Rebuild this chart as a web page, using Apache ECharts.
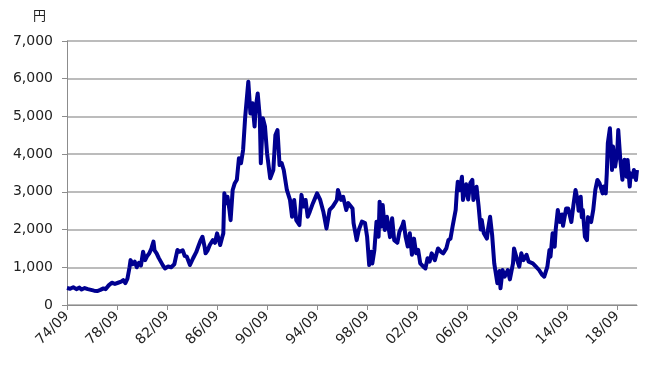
<!DOCTYPE html>
<html>
<head>
<meta charset="utf-8">
<script src="https://cdn.jsdelivr.net/npm/echarts@6/dist/echarts.min.js"></script>
<style>
  html, body { margin: 0; padding: 0; background: #fff; }
  #chart { width: 651px; height: 370px; }
</style>
</head>
<body>
<div id="chart"></div>
<script>
// months counted from 1974/09
var monthIndex = [
  0, 3, 6, 9, 12, 14, 17, 20, 23, 26, 29, 32, 35, 37, 40, 43, 46, 49, 52, 54,
  56, 58, 60, 61, 63, 65, 67, 69, 71, 73, 75, 77, 79, 81, 83, 84, 86, 88, 90, 92,
  94, 97, 100, 103, 106, 108, 111, 113, 115, 118, 121, 124, 126, 128, 130, 132, 133, 135, 137, 140,
  142, 144, 147, 149, 150, 151, 153, 154, 156, 157, 158, 159, 161, 163, 165, 167, 169, 171, 174, 176,
  178, 180, 181, 183, 185, 186, 188, 190, 192, 195, 198, 200, 202, 204, 206, 208, 211, 214, 216, 218,
  220, 223, 225, 227, 229, 231, 233, 236, 240, 243, 246, 249, 252, 255, 259, 260, 263, 265, 268, 270,
  274, 275, 278, 280, 283, 286, 288, 290, 292, 293, 295, 297, 299, 300, 302, 303, 305, 307, 310, 312,
  314, 317, 319, 322, 323, 325, 327, 329, 331, 333, 335, 337, 339, 342, 344, 346, 348, 350, 353, 356,
  359, 361, 364, 366, 368, 370, 373, 374, 375, 377, 379, 380, 383, 385, 387, 389, 390, 393, 395, 397,
  398, 400, 403, 404, 406, 408, 410, 413, 415, 416, 418, 420, 423, 425, 428, 429, 432, 434, 436, 438,
  441, 443, 447, 450, 453, 456, 458, 461, 463, 464, 466, 468, 469, 471, 473, 475, 476, 479, 481, 484,
  486, 488, 490, 491, 493, 494, 495, 497, 499, 500, 503, 505, 507, 509, 511, 514, 515, 517, 518, 519,
  521, 523, 524, 526, 528, 529, 531, 533, 535, 537, 538, 540, 541, 543, 544, 546, 547
];
var price = [
  450, 430, 470, 420, 460, 410, 450, 420, 400, 380, 370, 400, 440, 420, 520, 590, 560, 590, 620, 660,
  580, 700, 1000, 1190, 1080, 1150, 1000, 1120, 1050, 1410, 1190, 1300, 1370, 1500, 1680, 1450, 1370, 1250, 1150, 1050,
  970, 1020, 1000, 1080, 1460, 1410, 1450, 1300, 1280, 1060, 1240, 1400, 1550, 1700, 1810, 1550, 1370, 1450, 1590, 1720,
  1650, 1900, 1590, 1800, 1900, 2960, 2700, 2870, 2500, 2250, 2210, 3050, 3230, 3320, 3890, 3760, 4110, 4990, 5920, 5080,
  5350, 4730, 5210, 5610, 4990, 3760, 4950, 4730, 4020, 3360, 3580, 4510, 4640, 3710, 3760, 3580, 3050, 2785, 2340, 2785,
  2250, 2120, 2920, 2610, 2785, 2340, 2475, 2700, 2960, 2785, 2475, 2030, 2520, 2610, 2785, 3050, 2785, 2870, 2520, 2700,
  2560, 2170, 1720, 1990, 2210, 2170, 1810, 1060, 1410, 1100, 1460, 2210, 1810, 2740, 2080, 2650, 1990, 2340, 1800, 2300,
  1720, 1650, 1940, 2120, 2210, 1800, 1550, 1900, 1330, 1760, 1370, 1460, 1105, 1016, 970, 1240, 1150, 1370, 1190, 1500,
  1410, 1370, 1500, 1720, 1760, 2080, 2520, 2960, 3270, 3050, 3400, 2785, 3200, 2800, 3230, 3316, 2785, 3137, 2620, 2000,
  2254, 1900, 1760, 2000, 2340, 1850, 1105, 575, 900, 443, 928, 750, 928, 680, 1105, 1500, 1190, 1016, 1370, 1190,
  1330, 1150, 1105, 1016, 928, 800, 750, 1016, 1460, 1281, 1900, 1546, 2000, 2519, 2200, 2400, 2100, 2560, 2560, 2200,
  2650, 3050, 2780, 2500, 2870, 2330, 2520, 1811, 1720, 2330, 2200, 2520, 3050, 3316, 3230, 2960, 3140, 2960, 3490, 4287,
  4685, 3580, 4200, 3670, 4030, 4640, 3850, 3320, 3850, 3400, 3845, 3140, 3490, 3400, 3580, 3316, 3580
];
var tickMonths = [0, 48, 96, 144, 192, 240, 288, 336, 384, 432, 480, 528];
var tickLabels = ['74/09', '78/09', '82/09', '86/09', '90/09', '94/09', '98/09', '02/09', '06/09', '10/09', '14/09', '18/09'];

var seriesData = monthIndex.map(function (m, i) { return [m, price[i]] });

var dom = echarts.init(document.getElementById('chart'))
var option = {
  animation: false,
  title: {
    text: '円',
    left: 28,
    top: 4,
    textStyle: { fontSize: 13, fontWeight: 'normal', color: '#222', fontFamily: 'Noto Sans CJK JP' }
  },
  grid: { left: 67, right: 14, top: 41, bottom: 65 },
  xAxis: {
    type: 'value',
    min: 0,
    max: 547,
    interval: 48,
    axisLine: { lineStyle: { color: '#8c8c8c', width: 1 } },
    axisTick: { show: true, length: 5, customValues: tickMonths, lineStyle: { color: '#8c8c8c' } },
    axisLabel: {
      customValues: tickMonths,
      rotate: 45,
      margin: 9,
      fontSize: 14,
      fontFamily: 'DejaVu Sans',
      color: '#222',
      formatter: function (v) {
        var i = tickMonths.indexOf(v)
        return i >= 0 ? tickLabels[i] : ''
      }
    },
    splitLine: { show: false }
  },
  yAxis: {
    type: 'value',
    min: 0,
    max: 7000,
    interval: 1000,
    axisLine: { show: true, lineStyle: { color: '#8c8c8c', width: 1 } },
    axisTick: { show: true, length: 5, lineStyle: { color: '#8c8c8c' } },
    axisLabel: {
      margin: 14,
      fontSize: 14,
      fontFamily: 'DejaVu Sans',
      color: '#222',
      formatter: function (v) { return v.toLocaleString('en-US') }
    },
    splitLine: { lineStyle: { color: '#a6a6a6', width: 1.5 } }
  },
  series: [
    {
      type: 'line',
      data: seriesData,
      showSymbol: false,
      lineStyle: { color: '#000090', width: 4, join: 'round' }
    }
  ]
}
dom.setOption(option)
</script>
</body>
</html>
